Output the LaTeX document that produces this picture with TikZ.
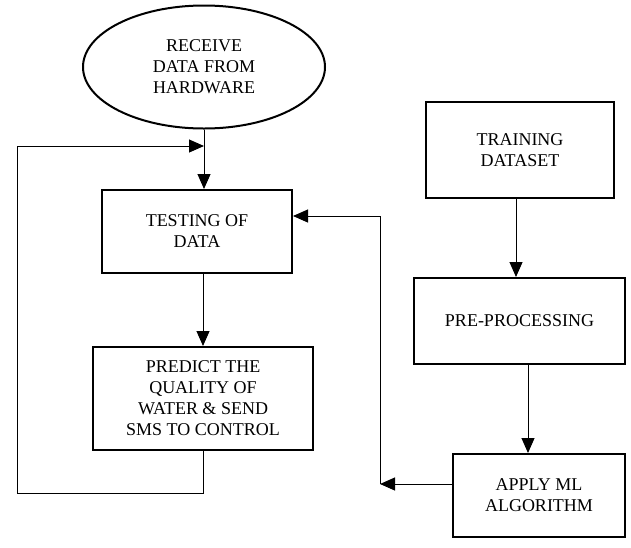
\documentclass[tikz,border=0pt]{standalone}
\usepackage{fontspec}
\setmainfont{Liberation Serif}
\usetikzlibrary{shapes.geometric,arrows.meta}
\tikzset{
    box/.style={draw, line width=2pt, rectangle, align=center, inner sep=0pt},
    arr/.style={line width=1pt, -{Triangle[length=15pt,width=13pt]}},
    ln/.style={line width=1pt}
}
\begin{document}
\begin{tikzpicture}[x=1pt, y=-1pt, font=\fontsize{18}{21}\selectfont]
    \useasboundingbox (0,0) rectangle (631,547);
    % left column
    \node[draw, line width=2pt, ellipse, minimum width=242pt, minimum height=123pt, align=center, inner sep=0pt] (recv) at (204,67) {RECEIVE\\DATA FROM\\HARDWARE};
    \node[box, minimum width=190pt, minimum height=83pt] (test) at (197,231.5) {TESTING OF\\DATA};
    \node[box, minimum width=220pt, minimum height=103pt] (pred) at (203,398.5) {PREDICT THE\\QUALITY OF\\WATER \& SEND\\SMS TO CONTROL};
    % right column
    \node[box, minimum width=188pt, minimum height=96pt] (train) at (520,150) {TRAINING\\DATASET};
    \node[box, minimum width=211pt, minimum height=86pt] (prep) at (519.5,321) {PRE-PROCESSING};
    \node[box, minimum width=172pt, minimum height=83pt] (apply) at (539,495.5) {APPLY ML\\ALGORITHM};
    % corner points
    \coordinate (lb) at (17,493);
    \coordinate (lt) at (17,146);
    \coordinate (mb) at (380,484);
    \coordinate (mt) at (380,216);
    % connectors
    \draw[arr] (recv.south) -- (recv.south |- test.north);
    \draw[arr] (pred.north |- test.south) -- (pred.north);
    \draw[ln] (pred.south) |- (lb) -- (lt);
    \draw[arr] (lt) -- (lt -| recv.south);
    \draw[arr] ([xshift=-4pt]train.south) -- ([xshift=-4pt]train.south |- prep.north);
    \draw[arr] ([xshift=8.5pt]prep.south) -- ([xshift=8.5pt]prep.south |- apply.north);
    \draw[arr] (apply.west |- mb) -- (mb);
    \draw[arr] (mb) -- (mt) -- (mt -| test.east);
\end{tikzpicture}
\end{document}
